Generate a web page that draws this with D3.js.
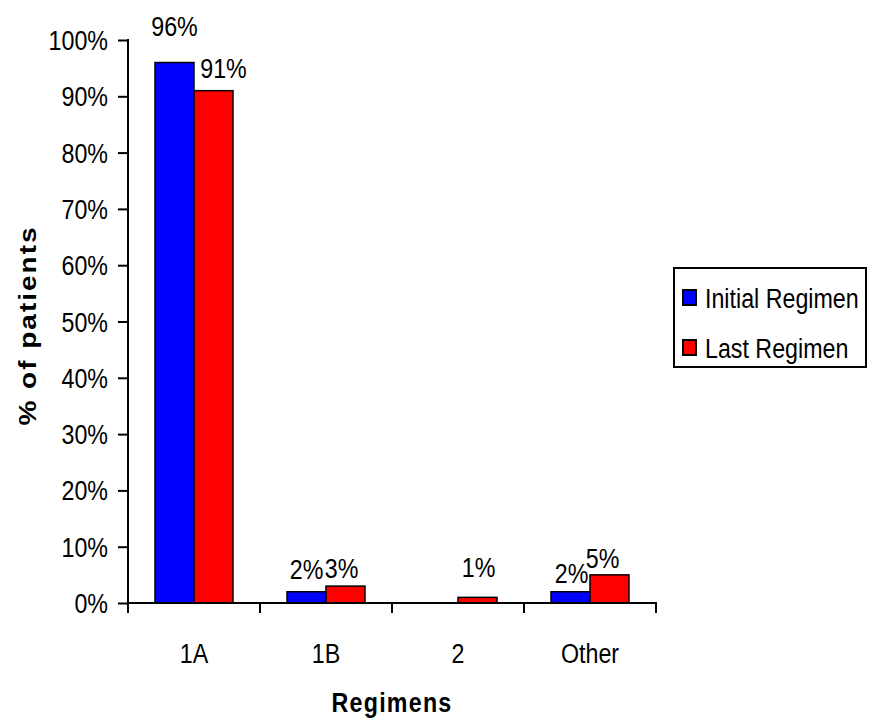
<!DOCTYPE html>
<html>
<head>
<meta charset="utf-8">
<script src="https://cdn.jsdelivr.net/npm/d3@7"></script>
<style>
  html, body { margin: 0; padding: 0; background: #fff; }
  svg { display: block; }
  text { font-family: "Liberation Sans", Arial, sans-serif; fill: #000; }
</style>
</head>
<body>
<svg id="chart" width="869" height="722"></svg>
<script>
// Regimen categories and the share of patients on each (percent)
const categories = ["1A", "1B", "2", "Other"];
const seriesNames = ["Initial Regimen", "Last Regimen"];
const initialRegimen = [96, 2, 0, 2];
const lastRegimen = [91, 3, 1, 5];
const yTickValues = [0, 10, 20, 30, 40, 50, 60, 70, 80, 90, 100];
const seriesColors = ["#0000ff", "#ff0000"];

// Hand placement of the value labels: [dx, lift above bar top] per category, per series
const labelPlacement = [
  [[0, 27], [10, 13]],
  [[0, 13], [-4, 8]],
  [[0, 0], [1, 20]],
  [[1, 9], [-7, 7]]
];

const svg = d3.select("#chart");
const plot = { left: 128, right: 656, top: 40, bottom: 603 };
const condense = 0.83;   // narrow lettering
const fontSize = 28;

const y = d3.scaleLinear().domain([0, 100]).range([plot.bottom, plot.top]);
const x = d3.scaleBand().domain(categories).range([plot.left, plot.right]);
const inner = d3.scaleBand().domain(seriesNames).range([27, 105]);

const rows = categories.map((c, i) => ({
  category: c,
  index: i,
  values: [
    { s: 0, series: seriesNames[0], value: initialRegimen[i], color: seriesColors[0] },
    { s: 1, series: seriesNames[1], value: lastRegimen[i], color: seriesColors[1] }
  ]
}));

function label(g, x0, y0, str, opts = {}) {
  return g.append("text")
    .attr("transform", `translate(${x0},${y0}) scale(${condense},1)` + (opts.rotate ? ` rotate(${opts.rotate})` : ""))
    .attr("text-anchor", opts.anchor || "middle")
    .attr("font-size", opts.size || fontSize)
    .attr("font-weight", opts.bold ? "bold" : "normal")
    .attr("letter-spacing", opts.spacing || 0)
    .text(str);
}

// Bars
const groups = svg.append("g").selectAll("g").data(rows).join("g")
  .attr("transform", d => `translate(${x(d.category)},0)`);

groups.selectAll("rect").data(d => d.values.filter(v => v.value > 0)).join("rect")
  .attr("x", v => inner(v.series))
  .attr("y", v => y(v.value))
  .attr("width", inner.bandwidth())
  .attr("height", v => y(0) - y(v.value))
  .attr("fill", v => v.color)
  .attr("stroke", "#000")
  .attr("stroke-width", 1.5);

// Value labels
groups.each(function (d) {
  const g = d3.select(this);
  d.values.forEach(v => {
    if (v.value <= 0) return;
    const [dx, lift] = labelPlacement[d.index][v.s];
    label(g, inner(v.series) + inner.bandwidth() / 2 + dx, y(v.value) - lift, v.value + "%");
  });
});

// Y axis
const yAxis = d3.axisLeft(y).tickValues(yTickValues).tickSize(10).tickFormat(() => "");
const yg = svg.append("g").attr("transform", `translate(${plot.left},0)`).call(yAxis);
yg.select(".domain").attr("stroke", "#000").attr("stroke-width", 2).attr("d", `M0,${plot.top - 1}V${plot.bottom + 1}`);
yg.selectAll(".tick line").attr("stroke", "#000").attr("stroke-width", 2);
yTickValues.forEach(t => label(svg, 108, y(t) + 10, t + "%", { anchor: "end" }));

// X axis with ticks on category boundaries
const xg = svg.append("g");
xg.append("line").attr("x1", plot.left - 1).attr("x2", plot.right + 1)
  .attr("y1", plot.bottom).attr("y2", plot.bottom)
  .attr("stroke", "#000").attr("stroke-width", 2);
const boundaries = categories.map(c => x(c)).concat([x(categories[categories.length - 1]) + x.bandwidth()]);
xg.selectAll("line.tk").data(boundaries).join("line").attr("class", "tk")
  .attr("x1", d => d).attr("x2", d => d)
  .attr("y1", plot.bottom).attr("y2", plot.bottom + 10)
  .attr("stroke", "#000").attr("stroke-width", 2);
categories.forEach(c => label(svg, x(c) + x.bandwidth() / 2, 663, c));

// Axis titles
label(svg, (plot.left + plot.right) / 2, 712, "Regimens", { bold: true, spacing: 1.5 });
label(svg, 36, (plot.top + plot.bottom) / 2 + 4, "% of patients", { bold: true, spacing: 2, rotate: -90 });

// Legend
const lg = svg.append("g").attr("transform", "translate(674,268)");
lg.append("rect").attr("width", 192).attr("height", 99)
  .attr("fill", "#fff").attr("stroke", "#000").attr("stroke-width", 2);
seriesNames.forEach((s, i) => {
  const cy = 29 + i * 50;
  lg.append("rect").attr("x", 9).attr("y", cy - 7).attr("width", 13).attr("height", 15)
    .attr("fill", seriesColors[i]).attr("stroke", "#000").attr("stroke-width", 2);
  label(lg, 31, cy + 11, s, { anchor: "start" });
});
</script>
</body>
</html>
